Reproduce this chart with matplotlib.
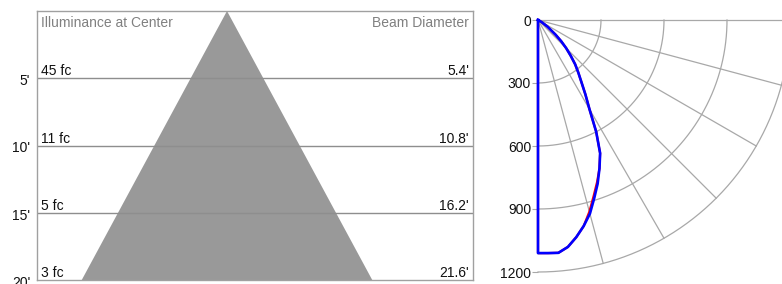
import numpy as np
import matplotlib
matplotlib.use("Agg")
import matplotlib.pyplot as plt
import matplotlib.transforms as mtransforms

plt.rcParams['font.family'] = ['Liberation Sans', 'DejaVu Sans']

# ---------------- data ----------------
depths = [5, 10, 15, 20]                      # ft
depth_labels = ["5'", "10'", "15'", "20'"]
illuminance = ["45 fc", "11 fc", "5 fc", "3 fc"]
beam_diam = [5.4, 10.8, 16.2, 21.6]           # ft
beam_labels = ["5.4'", "10.8'", "16.2'", "21.6'"]

ring_values = [300, 600, 900, 1200]           # cd
ring_labels = ["0", "300", "600", "900", "1200"]
spoke_angles = [15, 30, 45, 60, 75, 90]       # deg from nadir

curve_angles = [0, 0, 2.5, 5, 7.5, 10, 12.5, 15, 17.5, 20, 22.5, 25, 27.5, 30,
                32.5, 35, 37.5, 40, 42.5, 45, 47.5, 50, 55, 60, 65, 70, 90]
curve_cd_blue = [0, 1110, 1111, 1113, 1090, 1050, 1005, 955, 890, 830, 765, 700, 600, 490,
                 420, 360, 315, 275, 230, 190, 150, 110, 55, 20, 5, 0, 0]
curve_cd_red = [0, 1110, 1111, 1113, 1090, 1050, 1005, 945, 880, 822, 765, 700, 600, 490,
                420, 360, 315, 275, 230, 190, 150, 110, 55, 20, 5, 0, 0]

W, H = 782, 284
fig = plt.figure(figsize=(W / 100, H / 100), dpi=100)

# ---------------- left panel: beam cone ----------------
L, R, T, B = 37, 473, 11, 280
axl = fig.add_axes([L / W, 1 - B / H, (R - L) / W, (B - T) / H])
px_per_ft = (B - T) / depths[-1]
apex_px = 227
axl.set_ylim(depths[-1], 0)
axl.set_xlim((L - apex_px) / px_per_ft, (R - apex_px) / px_per_ft)

D = depths[-1]
half = beam_diam[-1] / 2
axl.fill([0, -half, half], [0, D, D], color='#999999', lw=0, zorder=1)
for d in depths[:-1]:
    axl.axhline(d, color='#8e8e8e', lw=1.0, zorder=2)

for s in axl.spines.values():
    s.set_color('#a0a0a0')
    s.set_linewidth(1.0)

axl.set_xticks([])
axl.set_yticks(depths)
axl.set_yticklabels(depth_labels, fontsize=10, color='#111111')
axl.tick_params(axis='y', length=0, pad=5)
offset = mtransforms.ScaledTranslation(0, -2 / 72, fig.dpi_scale_trans)
for lab in axl.get_yticklabels():
    lab.set_verticalalignment('center')
    lab.set_transform(lab.get_transform() + offset)

for d, il, bl in zip(depths, illuminance, beam_labels):
    axl.annotate(il, xy=(0, d), xycoords=('axes fraction', 'data'),
                 xytext=(3, 2), textcoords='offset points',
                 ha='left', va='baseline', fontsize=10, color='#111111', zorder=3)
    axl.annotate(bl, xy=(1, d), xycoords=('axes fraction', 'data'),
                 xytext=(-3, 2), textcoords='offset points',
                 ha='right', va='baseline', fontsize=10, color='#111111', zorder=3)

axl.text(4 / (R - L), 1 - 5 / (B - T), "Illuminance at Center", transform=axl.transAxes,
         ha='left', va='top', fontsize=10, color='#808080')
axl.text(1 - 4 / (R - L), 1 - 5 / (B - T), "Beam Diameter", transform=axl.transAxes,
         ha='right', va='top', fontsize=10, color='#808080')

# ---------------- right panel: polar candela plot ----------------
ox, oy = 538, 20
scale = 0.21  # px per cd
x0, x1 = 495, W
axr = fig.add_axes([x0 / W, 0, (x1 - x0) / W, 1])
axr.set_xlim((x0 - ox) / scale, (x1 - ox) / scale)
axr.set_ylim((oy - H) / scale, oy / scale)

grid_c = '#a8a8a8'
th = np.radians(np.linspace(0, 90, 200))
for r in ring_values:
    axr.plot(r * np.sin(th), -r * np.cos(th), color=grid_c, lw=0.9, zorder=1)
Rmax = ring_values[-1]
for a in spoke_angles:
    t = np.radians(a)
    axr.plot([0, Rmax * np.sin(t)], [0, -Rmax * np.cos(t)], color=grid_c, lw=0.9, zorder=1)

ca = np.radians(curve_angles)
cr = np.array(curve_cd_red)
cb = np.array(curve_cd_blue)
axr.plot(cr * np.sin(ca), -cr * np.cos(ca), color='#ff0000', lw=1.6, zorder=2)
axr.plot(cb * np.sin(ca), -cb * np.cos(ca), color='#0000ff', lw=1.9, zorder=3,
         solid_joinstyle='round')

for s in ['top', 'right', 'bottom']:
    axr.spines[s].set_visible(False)
axr.spines['left'].set_position(('data', 0))
axr.spines['left'].set_visible(False)
axr.set_xticks([])
axr.set_yticks([0] + [-r for r in ring_values])
axr.set_yticklabels(ring_labels, fontsize=10, color='#111111')
axr.tick_params(axis='y', length=4, color=grid_c, pad=1)
axr.patch.set_alpha(0)

fig.savefig("out.png", dpi=100)
